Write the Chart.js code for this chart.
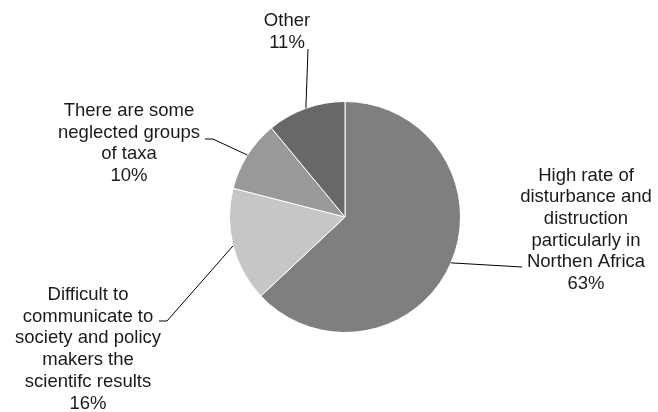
<!DOCTYPE html>
<html>
<head>
<meta charset="utf-8">
<script src="https://cdn.jsdelivr.net/npm/chart.js@4"></script>
<style>
  html, body { margin: 0; padding: 0; background: #fff; }
  #wrap { width: 658px; height: 412px; }
</style>
</head>
<body>
<div id="wrap"><canvas id="pieChart" width="658" height="412"></canvas></div>
<script>
// data
const categories = [
    ['High rate of', 'disturbance and', 'distruction', 'particularly in', 'Northen Africa'],
    ['Difficult to', 'communicate to', 'society and policy', 'makers the', 'scientifc results'],
    ['There are some', 'neglected groups', 'of taxa'],
    ['Other']
];
const values = [63, 16, 10, 11];
const sliceColors = ['#7f7f7f', '#c6c6c6', '#999999', '#686868'];

// where each label sits: text centre, first line y, leader line bend/end
const labelSpots = [
    { cx: 586, y: 175.5, bend: null, end: [522, 267] },
    { cx: 88, y: 295, bend: [167, 321], end: [159, 321] },
    { cx: 129, y: 111, bend: [213, 139], end: [205, 139] },
    { cx: 287, y: 21, bend: null, end: [308, 49] }
];

const leaderLabels = {
    id: 'leaderLabels',
    afterDatasetsDraw(chart) {
        const ctx = chart.ctx;
        const arcs = chart.getDatasetMeta(0).data;
        const total = values.reduce((a, b) => a + b, 0);
        ctx.save();
        ctx.strokeStyle = '#000';
        ctx.lineWidth = 1;
        arcs.forEach((arc, i) => {
            const p = arc.getProps(['x', 'y', 'startAngle', 'endAngle', 'outerRadius'], true);
            const mid = (p.startAngle + p.endAngle) / 2;
            const sx = p.x + Math.cos(mid) * p.outerRadius;
            const sy = p.y + Math.sin(mid) * p.outerRadius;
            const spot = labelSpots[i];
            ctx.beginPath();
            ctx.moveTo(sx, sy);
            if (spot.bend) ctx.lineTo(spot.bend[0], spot.bend[1]);
            ctx.lineTo(spot.end[0], spot.end[1]);
            ctx.stroke();

            const lines = categories[i].concat([Math.round(values[i] / total * 100) + '%']);
            ctx.fillStyle = '#1a1a1a';
            ctx.font = '18.5px "Liberation Sans", Arial, sans-serif';
            ctx.textAlign = 'center';
            ctx.textBaseline = 'middle';
            lines.forEach((t, k) => ctx.fillText(t, spot.cx, spot.y + k * 21.7));
        });
        ctx.restore();
    }
};

const ctx = document.getElementById('pieChart').getContext('2d');
const chart = new Chart(ctx, {
    type: 'pie',
    data: {
        labels: categories,
        datasets: [{
            data: values,
            backgroundColor: sliceColors,
            borderColor: '#ffffff',
            borderWidth: 1
        }]
    },
    options: {
        responsive: false,
        animation: false,
        layout: { padding: { top: 101, bottom: 79, left: 229, right: 197 } },
        plugins: {
            legend: { display: false },
            tooltip: { enabled: false }
        }
    },
    plugins: [leaderLabels]
});
</script>
</body>
</html>
